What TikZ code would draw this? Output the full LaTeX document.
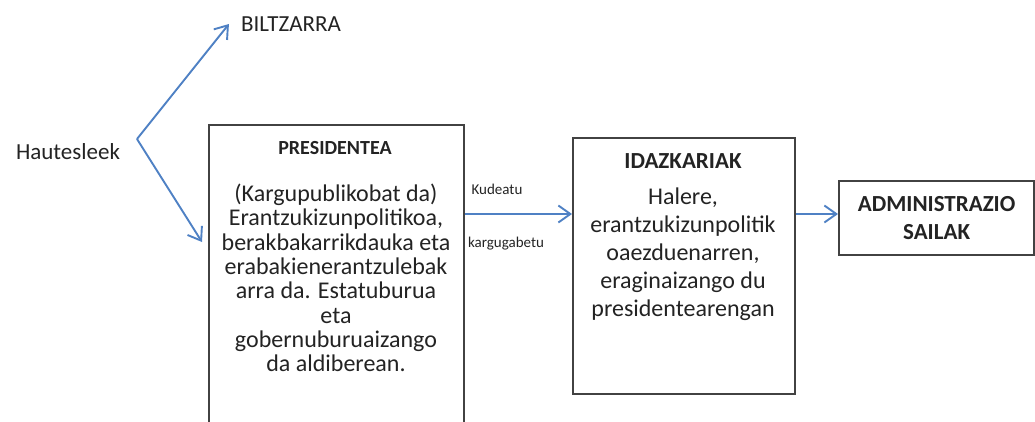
\documentclass[tikz,border=0pt]{standalone}
\usepackage{fontspec}
\setmainfont{Carlito}
\usetikzlibrary{positioning,arrows.meta}
\definecolor{linkblue}{RGB}{79,129,196}
\definecolor{boxgray}{RGB}{66,66,66}
\definecolor{inkgray}{RGB}{35,35,35}

\begin{document}
\begin{tikzpicture}[x=1pt,y=-1pt,
    box/.style={draw=boxgray, line width=2.2pt, inner sep=0pt},
    link/.style={linkblue, line width=1.9pt, -{Straight Barb[length=12pt,width=17pt,line width=1.9pt]}},
    plain/.style={font=\fontsize{24}{24.3}\selectfont, text=inkgray, align=center, inner sep=0pt},
    roomy/.style={font=\fontsize{24}{28}\selectfont, text=inkgray, align=center, inner sep=0pt},
    heading/.style={font=\fontsize{23}{27.5}\selectfont\bfseries, text=inkgray, align=center, inner sep=0pt},
    small/.style={font=\fontsize{15}{15}\selectfont, text=inkgray, inner sep=0pt}]
  \clip (0,0) rectangle (1035,421);

  % ---- LEFT: voters ----
  \node[plain, font=\fontsize{23}{24}\selectfont] (hautes) at (68,152) {Hautesleek};
  \node[plain, font=\fontsize{23}{24}\selectfont] (biltz) at (291,24) {BILTZARRA};
  \coordinate (fork) at (137,139);
  \coordinate (presin) at (202,242);
  \draw[link] (fork) -- ([xshift=-12pt]biltz.west);
  \draw[link] (fork) -- (presin);

  % ---- PRESIDENTEA ----
  \node[box, minimum width=255pt, minimum height=320pt, anchor=north west] (pres) at (208,124) {};
  \node[heading, font=\fontsize{20}{24}\selectfont\bfseries] (prestitle) at (335,148) {PRESIDENTEA};
  \node[plain] (presbody) at (336,278) {(Kargupublikobat da)\\
    Erantzukizunpolitikoa,\\ berakbakarrikdauka eta\\ erabakienerantzulebak\\
    arra da. Estatuburua\\ eta\\ gobernuburuaizango\\ da aldiberean.};

  % ---- IDAZKARIAK ----
  \node[box, minimum width=222pt, minimum height=256pt, anchor=north west] (idaz) at (572,137) {};
  \node[heading] (idaztitle) at (683,161) {IDAZKARIAK};
  \node[roomy] (idazbody) at (683,254) {Halere,\\ erantzukizunpolitik\\
    oaezduenarren,\\ eraginaizango du\\ presidentearengan};

  % ---- ADMINISTRAZIO SAILAK ----
  \node[box, heading, minimum width=195pt, minimum height=74pt, anchor=north west] (admin) at (838,180) {ADMINISTRAZIO\\ SAILAK};

  % Arrows between boxes
  \coordinate (row) at (0,214);
  \draw[link] (pres.east |- row) -- (idaz.west |- row);
  \draw[link] (idaz.east |- row) -- (admin.west |- row);
  \node[small] (kudeatu) at (497,189) {Kudeatu};
  \node[small] (karg) at (506,244) {kargugabetu};
\end{tikzpicture}
\end{document}
